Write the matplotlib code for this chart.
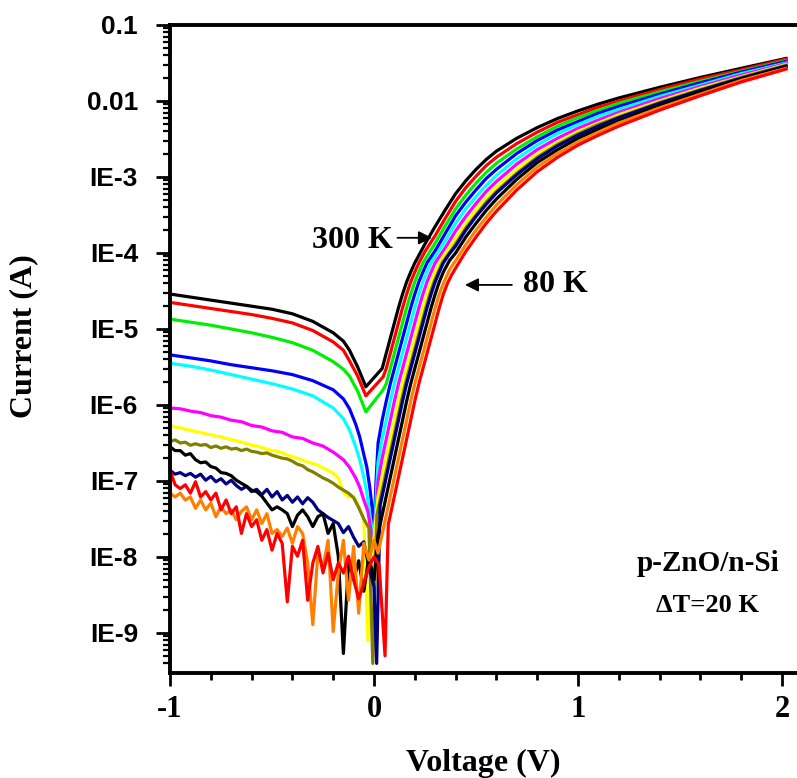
import numpy as np
import matplotlib
matplotlib.use('Agg')
import matplotlib.pyplot as plt
from matplotlib.ticker import FixedLocator, MultipleLocator, NullFormatter

SERIF = 'Liberation Serif'
SANS = 'Liberation Sans'

# ---------------- data (voltage in V, log10 of current in A) ----------------
temperatures = [300, 280, 260, 240, 220, 200, 180, 160, 140, 120, 100, 80]
line_colors = ['#000000', '#FF0000', '#00EE00', '#0000FF', '#00FFFF', '#FF00FF',
               '#FFFF00', '#808000', '#000080', '#000000', '#FF8000', '#FF0000']

# common reverse-bias sweep (step 25 mV) used for the noisy low-temperature curves
V_sweep = np.round(np.linspace(-1.0, 0.0, 41), 3)
# common high-forward-bias voltages
V_high = [0.45, 0.5, 0.55, 0.6, 0.7, 0.8, 0.9, 1.0, 1.1, 1.2, 1.4, 1.6, 1.8, 2.02]

curve_300 = [(-1.0, -4.54), (-0.9, -4.58), (-0.8, -4.62), (-0.7, -4.66), (-0.6, -4.70), (-0.5, -4.74),
             (-0.4, -4.80), (-0.3, -4.90), (-0.2, -5.05), (-0.15, -5.16), (-0.12, -5.28), (-0.08, -5.50),
             (-0.04, -5.76), (0.04, -5.52), (0.06, -5.32), (0.08, -5.12), (0.10, -4.92), (0.12, -4.72),
             (0.14, -4.54), (0.16, -4.38), (0.18, -4.25), (0.20, -4.13), (0.25, -3.88), (0.30, -3.65),
             (0.35, -3.43), (0.40, -3.22)]
high_300 = [-3.05, -2.90, -2.77, -2.66, -2.49, -2.35, -2.23, -2.13, -2.04, -1.96, -1.82, -1.69, -1.57, -1.44]

curve_280 = [(-1.0, -4.65), (-0.9, -4.69), (-0.8, -4.73), (-0.7, -4.77), (-0.6, -4.81), (-0.5, -4.86),
             (-0.4, -4.92), (-0.3, -5.02), (-0.2, -5.17), (-0.15, -5.28), (-0.12, -5.42), (-0.08, -5.62),
             (-0.04, -5.88), (0.045, -5.63), (0.06, -5.52), (0.08, -5.32), (0.10, -5.12), (0.12, -4.92),
             (0.14, -4.72), (0.16, -4.54), (0.18, -4.38), (0.20, -4.25), (0.22, -4.13), (0.25, -3.98),
             (0.30, -3.77), (0.35, -3.54), (0.40, -3.32)]
high_280 = [-3.14, -2.99, -2.85, -2.74, -2.56, -2.41, -2.28, -2.18, -2.08, -2.00, -1.85, -1.71, -1.59, -1.45]

curve_260 = [(-1.0, -4.87), (-0.9, -4.91), (-0.8, -4.95), (-0.7, -5.00), (-0.6, -5.05), (-0.5, -5.11),
             (-0.4, -5.18), (-0.3, -5.28), (-0.2, -5.43), (-0.15, -5.53), (-0.12, -5.62), (-0.08, -5.82),
             (-0.04, -6.09), (0.045, -5.80), (0.06, -5.72), (0.08, -5.52), (0.10, -5.32), (0.12, -5.12),
             (0.14, -4.92), (0.16, -4.72), (0.18, -4.54), (0.20, -4.38), (0.22, -4.25), (0.24, -4.13),
             (0.30, -3.87), (0.35, -3.64), (0.40, -3.42)]
high_260 = [-3.24, -3.08, -2.94, -2.82, -2.63, -2.47, -2.33, -2.22, -2.12, -2.03, -1.88, -1.74, -1.61, -1.47]

curve_240 = [(-1.0, -5.34), (-0.9, -5.38), (-0.8, -5.42), (-0.7, -5.47), (-0.6, -5.51), (-0.5, -5.55),
             (-0.4, -5.60), (-0.3, -5.68), (-0.2, -5.80), (-0.15, -5.92), (-0.12, -6.05), (-0.09, -6.25),
             (-0.07, -6.42), (-0.05, -6.65), (-0.035, -6.82), (-0.02, -7.10), (-0.01, -7.34), (0.0, -7.70),
             (0.01, -7.00), (0.02, -6.50), (0.04, -6.20), (0.06, -5.95), (0.08, -5.72), (0.10, -5.52),
             (0.12, -5.32), (0.14, -5.12), (0.16, -4.92), (0.18, -4.72), (0.20, -4.54), (0.22, -4.38),
             (0.24, -4.25), (0.26, -4.13), (0.30, -3.97), (0.35, -3.74), (0.40, -3.51)]
high_240 = [-3.33, -3.17, -3.02, -2.90, -2.69, -2.52, -2.38, -2.27, -2.16, -2.07, -1.91, -1.76, -1.62, -1.48]

curve_220 = [(-1.0, -5.45), (-0.9, -5.49), (-0.8, -5.54), (-0.7, -5.60), (-0.6, -5.66), (-0.5, -5.72),
             (-0.4, -5.79), (-0.3, -5.88), (-0.2, -6.04), (-0.15, -6.18), (-0.12, -6.33), (-0.09, -6.55),
             (-0.07, -6.72), (-0.05, -6.95), (-0.035, -7.16), (-0.02, -7.45), (-0.01, -7.62), (0.0, -7.80),
             (0.01, -7.25), (0.02, -6.75), (0.04, -6.45), (0.06, -6.20), (0.08, -5.95), (0.10, -5.72),
             (0.12, -5.52), (0.14, -5.32), (0.16, -5.12), (0.18, -4.92), (0.20, -4.72), (0.22, -4.54),
             (0.24, -4.38), (0.26, -4.25), (0.28, -4.13), (0.35, -3.84), (0.40, -3.61)]
high_220 = [-3.42, -3.26, -3.11, -2.98, -2.76, -2.58, -2.43, -2.31, -2.20, -2.11, -1.94, -1.79, -1.64, -1.50]

curve_200 = [(-1.0, -6.04), (-0.95, -6.05), (-0.9, -6.08), (-0.85, -6.10), (-0.8, -6.14), (-0.75, -6.16),
             (-0.7, -6.20), (-0.65, -6.22), (-0.6, -6.27), (-0.55, -6.29), (-0.5, -6.34), (-0.45, -6.36),
             (-0.4, -6.42), (-0.35, -6.44), (-0.3, -6.50), (-0.25, -6.54), (-0.2, -6.62), (-0.15, -6.72),
             (-0.12, -6.82), (-0.09, -6.96), (-0.07, -7.08), (-0.05, -7.25), (-0.03, -7.40), (-0.015, -7.65),
             (0.0, -8.00), (0.01, -7.45), (0.02, -7.00), (0.04, -6.70), (0.06, -6.45), (0.08, -6.20),
             (0.10, -5.95), (0.12, -5.72), (0.14, -5.52), (0.16, -5.32), (0.18, -5.12), (0.20, -4.92),
             (0.22, -4.72), (0.24, -4.54), (0.26, -4.38), (0.28, -4.25), (0.30, -4.13), (0.35, -3.93),
             (0.40, -3.71)]
high_200 = [-3.52, -3.35, -3.19, -3.06, -2.83, -2.64, -2.49, -2.36, -2.25, -2.15, -1.97, -1.81, -1.66, -1.51]

rev_180 = [-6.27, -6.29, -6.30, -6.32, -6.33, -6.35, -6.36, -6.38, -6.39, -6.41,
           -6.42, -6.44, -6.455, -6.47, -6.49, -6.51, -6.53, -6.54, -6.56, -6.58,
           -6.60, -6.61, -6.63, -6.66, -6.68, -6.70, -6.73, -6.75, -6.77, -6.79,
           -6.83, -6.86, -6.90, -6.96, -7.15, -7.21, -7.20, -7.33, -7.50]
fwd_180 = [(-0.03, -9.10), (-0.015, -8.10), (0.0, -7.75), (0.02, -7.20), (0.04, -6.95), (0.06, -6.70),
           (0.08, -6.45), (0.10, -6.20), (0.12, -5.95), (0.14, -5.72), (0.16, -5.52), (0.18, -5.32),
           (0.20, -5.12), (0.22, -4.92), (0.24, -4.72), (0.26, -4.54), (0.28, -4.38), (0.30, -4.25),
           (0.32, -4.13), (0.35, -4.00), (0.40, -3.81)]
high_180 = [-3.61, -3.43, -3.27, -3.13, -2.90, -2.70, -2.54, -2.40, -2.29, -2.18, -2.00, -1.83, -1.68, -1.52]

rev_160 = [-6.48, -6.46, -6.50, -6.49, -6.53, -6.51, -6.53, -6.52, -6.56, -6.54,
           -6.57, -6.55, -6.58, -6.57, -6.60, -6.58, -6.61, -6.62, -6.64, -6.63,
           -6.66, -6.68, -6.70, -6.71, -6.74, -6.78, -6.80, -6.85, -6.88, -6.92,
           -6.96, -6.99, -7.03, -7.08, -7.12, -7.16, -7.22, -7.35, -7.50, -7.62]
fwd_160 = [(-0.006, -9.40), (0.014, -7.45), (0.034, -7.20), (0.054, -6.95), (0.074, -6.70), (0.094, -6.45),
           (0.114, -6.20), (0.134, -5.95), (0.154, -5.72), (0.174, -5.52), (0.194, -5.32), (0.214, -5.12),
           (0.234, -4.92), (0.254, -4.72), (0.274, -4.54), (0.294, -4.38), (0.334, -4.13), (0.40, -3.88)]
high_160 = [-3.67, -3.50, -3.33, -3.19, -2.95, -2.74, -2.57, -2.43, -2.31, -2.21, -2.02, -1.85, -1.69, -1.53]

rev_140 = [-6.86, -6.91, -6.89, -6.93, -6.90, -6.95, -6.91, -6.99, -6.94, -7.01,
           -6.97, -7.04, -6.99, -7.06, -7.11, -7.07, -7.14, -7.11, -7.18, -7.11,
           -7.21, -7.14, -7.25, -7.19, -7.28, -7.21, -7.30, -7.22, -7.28, -7.38,
           -7.43, -7.48, -7.52, -7.56, -7.68, -7.60, -7.74, -7.86, -7.80, -8.13, -8.39]
fwd_140 = [(0.013, -9.40), (0.03, -7.32), (0.04, -7.20), (0.06, -6.95), (0.08, -6.70), (0.10, -6.45),
           (0.12, -6.20), (0.14, -5.95), (0.16, -5.72), (0.18, -5.52), (0.20, -5.32), (0.22, -5.12),
           (0.24, -4.92), (0.26, -4.72), (0.28, -4.54), (0.30, -4.38), (0.32, -4.25), (0.34, -4.13),
           (0.37, -4.01), (0.40, -3.91)]
high_140 = [-3.70, -3.52, -3.36, -3.21, -2.97, -2.76, -2.59, -2.45, -2.33, -2.22, -2.03, -1.86, -1.70, -1.54]

rev_120 = [-6.55, -6.60, -6.60, -6.66, -6.64, -6.72, -6.76, -6.75, -6.81, -6.83,
           -6.89, -6.90, -6.93, -6.99, -7.03, -7.07, -7.12, -7.14, -7.20, -7.29,
           -7.38, -7.34, -7.38, -7.43, -7.60, -7.45, -7.38, -7.47, -7.60, -7.47,
           -7.43, -7.69, -7.56, -7.99, -9.27, -8.08, -8.30, -8.05, -8.45, -8.00, -8.30]
fwd_120 = [(0.02, -7.70), (0.04, -7.45), (0.06, -7.20), (0.08, -6.95), (0.10, -6.70), (0.12, -6.45),
           (0.14, -6.20), (0.16, -5.95), (0.18, -5.72), (0.20, -5.52), (0.22, -5.32), (0.24, -5.12),
           (0.26, -4.92), (0.28, -4.72), (0.30, -4.54), (0.32, -4.38), (0.34, -4.25), (0.37, -4.10),
           (0.40, -4.00)]
high_120 = [-3.79, -3.61, -3.44, -3.29, -3.03, -2.81, -2.64, -2.49, -2.37, -2.26, -2.06, -1.88, -1.71, -1.55]

rev_100 = [-7.16, -7.21, -7.16, -7.25, -7.21, -7.36, -7.25, -7.38, -7.29, -7.47,
           -7.34, -7.43, -7.38, -7.51, -7.40, -7.34, -7.51, -7.38, -7.56, -7.43,
           -7.69, -7.64, -7.73, -7.62, -7.82, -7.60, -7.69, -8.08, -8.89, -7.95,
           -8.13, -7.78, -8.98, -8.21, -7.78, -8.57, -7.86, -8.74, -7.82, -8.04, -7.78]
fwd_100 = [(0.02, -7.95), (0.04, -7.70), (0.06, -7.45), (0.08, -7.20), (0.10, -6.95), (0.12, -6.70),
           (0.14, -6.45), (0.16, -6.20), (0.18, -5.95), (0.20, -5.72), (0.22, -5.52), (0.24, -5.32),
           (0.26, -5.12), (0.28, -4.92), (0.30, -4.72), (0.32, -4.54), (0.34, -4.40), (0.37, -4.22),
           (0.40, -4.10)]
high_100 = [-3.89, -3.70, -3.53, -3.37, -3.10, -2.87, -2.69, -2.54, -2.41, -2.29, -2.09, -1.91, -1.73, -1.57]

rev_80 = [-6.86, -7.05, -7.10, -7.05, -7.16, -7.01, -7.21, -7.14, -7.25, -7.16,
          -7.38, -7.25, -7.43, -7.34, -7.69, -7.43, -7.60, -7.51, -7.78, -7.64,
          -7.91, -7.69, -7.82, -8.59, -7.86, -7.99, -7.78, -8.57, -8.08, -7.86,
          -8.21, -7.95, -8.30, -8.08, -8.21, -7.99, -8.30, -8.55, -8.35, -8.13, -8.00]
fwd_80 = [(0.025, -8.10), (0.054, -9.30), (0.07, -7.57), (0.08, -7.45), (0.10, -7.20), (0.12, -6.95),
          (0.14, -6.70), (0.16, -6.45), (0.18, -6.20), (0.20, -5.95), (0.22, -5.72), (0.24, -5.52),
          (0.26, -5.32), (0.28, -5.12), (0.30, -4.92), (0.32, -4.72), (0.34, -4.54), (0.36, -4.40),
          (0.38, -4.29), (0.40, -4.20)]
high_80 = [-3.98, -3.79, -3.61, -3.45, -3.17, -2.93, -2.74, -2.58, -2.45, -2.33, -2.12, -1.93, -1.75, -1.58]

y_tick_values = [1e-1, 1e-2, 1e-3, 1e-4, 1e-5, 1e-6, 1e-7, 1e-8, 1e-9]
y_tick_labels = ['0.1', '0.01', 'IE-3', 'IE-4', 'IE-5', 'IE-6', 'IE-7', 'IE-8', 'IE-9']
x_tick_values = [-1, 0, 1, 2]
x_tick_labels = ['-1', '0', '1', '2']


def with_high(pts, high):
    n = min(len(V_high), len(high))
    return list(pts) + [(V_high[i], high[i]) for i in range(n)]


def from_sweep(rev, fwd, high):
    n = min(len(rev), len(V_sweep))
    return with_high([(float(V_sweep[i]), rev[i]) for i in range(n)] + list(fwd), high)


curves = [with_high(curve_300, high_300), with_high(curve_280, high_280),
          with_high(curve_260, high_260), with_high(curve_240, high_240),
          with_high(curve_220, high_220), with_high(curve_200, high_200),
          from_sweep(rev_180, fwd_180, high_180), from_sweep(rev_160, fwd_160, high_160),
          from_sweep(rev_140, fwd_140, high_140), from_sweep(rev_120, fwd_120, high_120),
          from_sweep(rev_100, fwd_100, high_100), from_sweep(rev_80, fwd_80, high_80)]

# ---------------- figure ----------------
W, H = 797, 778
fig = plt.figure(figsize=(W / 100, H / 100), dpi=100)
ax = fig.add_axes([170 / W, 1 - 672.5 / H, 627 / W, 647.5 / H])

for T, col, pts in zip(temperatures, line_colors, curves):
    v = np.array([p[0] for p in pts])
    cur = 10.0 ** np.array([p[1] for p in pts])
    ax.plot(v, cur, color=col, lw=2.3, label=f'{T} K')

ax.set_yscale('log')
ax.set_xlim(-1.0, 2.0735)
ax.set_ylim(10 ** -9.52, 0.1)

for s in ['left', 'bottom', 'top']:
    ax.spines[s].set_linewidth(2.8)
ax.spines['right'].set_visible(False)

ax.set_yticks(y_tick_values)
ax.set_yticklabels(y_tick_labels, fontfamily=SANS, fontweight='bold', fontsize=19)
minor_y = [m * 10.0 ** e for e in range(-10, -1) for m in range(2, 10)]
minor_y = [v for v in minor_y if 10 ** -9.52 < v < 0.1]
ax.yaxis.set_minor_locator(FixedLocator(minor_y))
ax.yaxis.set_minor_formatter(NullFormatter())

ax.set_xticks(x_tick_values)
ax.set_xticklabels(x_tick_labels, fontfamily=SERIF, fontweight='bold', fontsize=22)
ax.xaxis.set_minor_locator(MultipleLocator(0.2))

ax.tick_params(axis='y', which='major', direction='out', length=10, width=2, pad=13)
ax.tick_params(axis='y', which='minor', direction='out', length=5, width=1.6)
ax.tick_params(axis='x', which='major', direction='out', length=9.5, width=2, pad=7)
ax.tick_params(axis='x', which='minor', direction='out', length=5, width=2)
ax.tick_params(which='both', top=False, right=False)

ax.set_xlabel('Voltage (V)', fontfamily=SERIF, fontweight='bold', fontsize=23)
ax.xaxis.set_label_coords(0.5, -0.118)
ax.set_ylabel('Current (A)', fontfamily=SERIF, fontweight='bold', fontsize=23)
ax.yaxis.set_label_coords(-0.2105, 0.52)

txt = dict(fontfamily=SERIF, fontweight='bold')
arrow = dict(arrowstyle='-|>', color='black', lw=1.3, mutation_scale=20, shrinkA=0, shrinkB=0)

ax.text(-0.108, 10 ** -3.83, '300 K', ha='center', va='center', fontsize=23, **txt)
ax.annotate('', xy=(0.284, 10 ** -3.80), xytext=(0.115, 10 ** -3.80), arrowprops=arrow)
ax.text(0.887, 10 ** -4.41, '80 K', ha='center', va='center', fontsize=23, **txt)
ax.annotate('', xy=(0.446, 10 ** -4.42), xytext=(0.676, 10 ** -4.42), arrowprops=arrow)

ax.text(0.858, 0.169, 'p-ZnO/n-Si', transform=ax.transAxes, ha='center', va='center', fontsize=21, **txt)
ax.text(0.858, 0.104, 'ΔT=20 K', transform=ax.transAxes, ha='center', va='center', fontsize=19, **txt)

fig.savefig('out.png', dpi=100)
